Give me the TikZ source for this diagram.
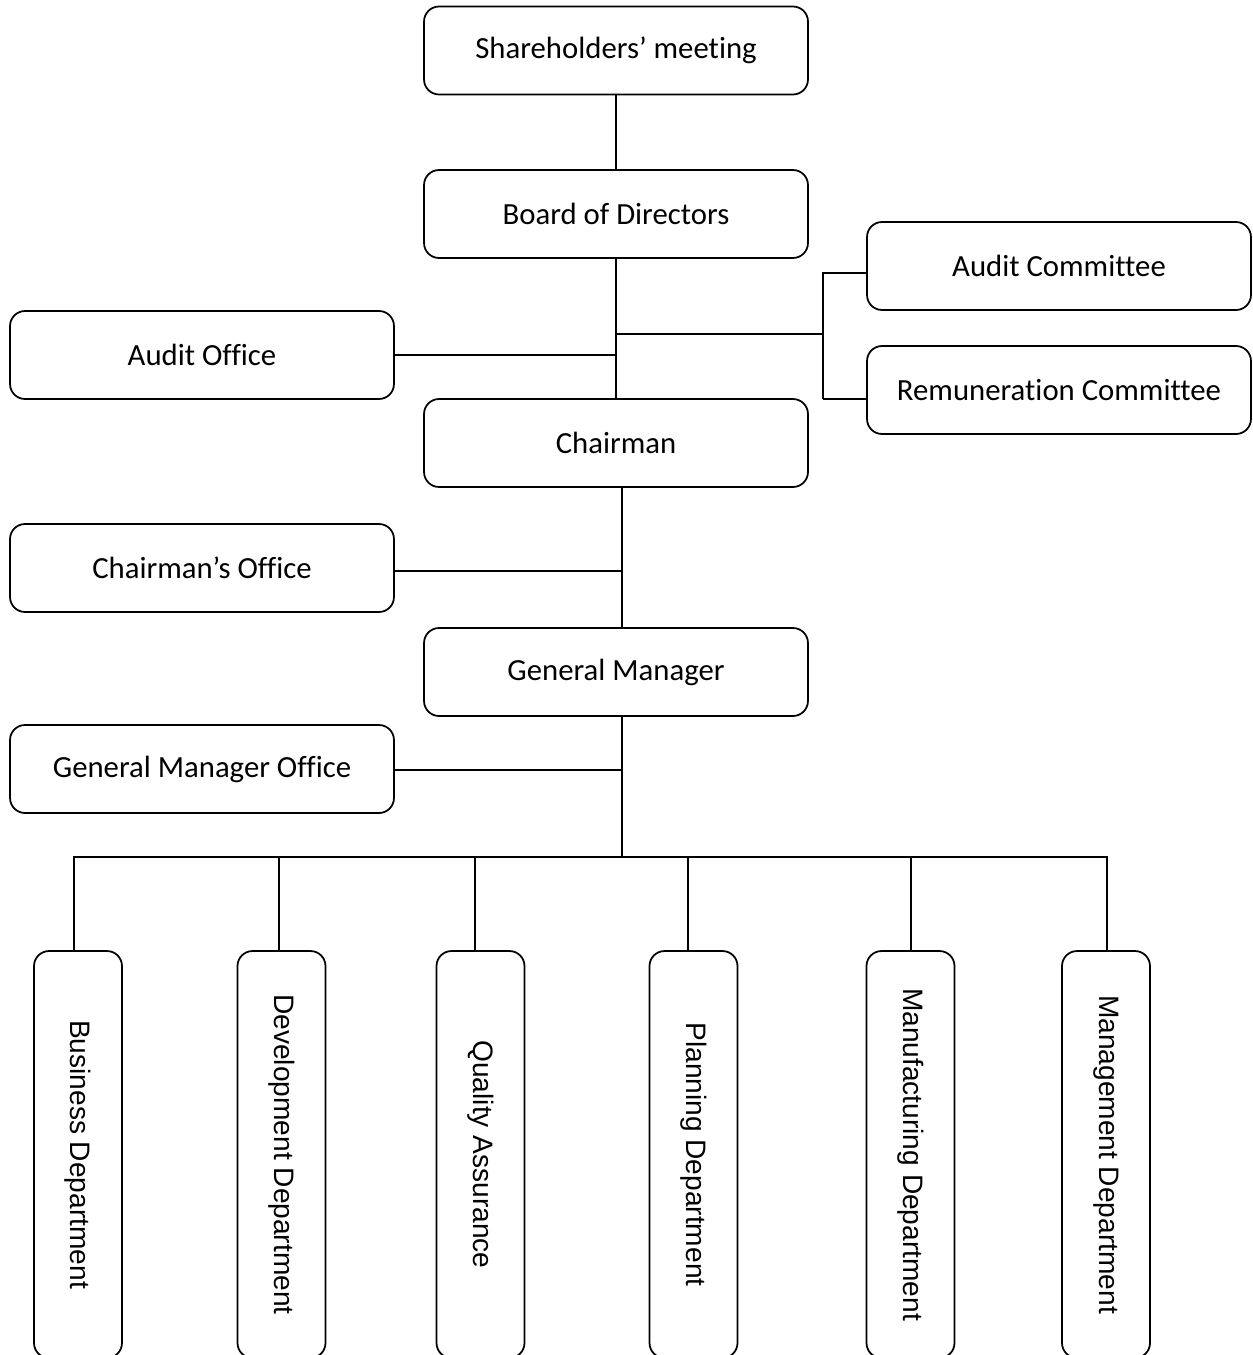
\documentclass[tikz,border=0pt]{standalone}
\usepackage{fontspec}
\setmainfont[Ligatures={NoCommon}]{Carlito}
\newfontfamily\arialf{Liberation Sans}
\begin{document}
\begin{tikzpicture}[x=0.02cm,y=-0.02cm,
 hbox/.style={draw, rounded corners=0.3cm, minimum width=7.68cm, minimum height=1.76cm, inner sep=0pt, font=\fontsize{17.5}{21}\selectfont, line width=1pt},
 vbox/.style={draw, rounded corners=0.3cm, rotate=-90, minimum width=8.14cm, minimum height=1.76cm, inner sep=0pt, font=\arialf\fontsize{16}{19}\selectfont, line width=1pt},
 conn/.style={line width=1pt}]
\useasboundingbox (0,0) rectangle (1252,1355);
% main boxes
\node[hbox] (sh) at (616,50.5) {Shareholders’ meeting};
\node[hbox] (bd) at (616,214) {Board of Directors};
\node[hbox] (ac) at (1059,266) {Audit Committee};
\node[hbox] (rc) at (1059,390) {Remuneration Committee};
\node[hbox] (ao) at (202,355) {Audit Office};
\node[hbox] (ch) at (616,443) {Chairman};
\node[hbox] (co) at (202,568) {Chairman’s Office};
\node[hbox] (gm) at (616,672) {General Manager};
\node[hbox] (go) at (202,769) {General Manager Office};
% departments (rotated: west anchor is the top)
\node[vbox] (d1) at (78,1154.5) {Business Department};
\node[vbox] (d2) at (281.5,1154.5) {Development Department};
\node[vbox] (d3) at (480.5,1154.5) {Quality Assurance};
\node[vbox] (d4) at (693.5,1154.5) {Planning Department};
\node[vbox] (d5) at (910.5,1154.5) {Manufacturing Department};
\node[vbox] (d6) at (1106,1154.5) {Management Department};
% junction coordinates
\coordinate (j1) at (616,334);
\coordinate (br) at (823,334);
\coordinate (brt) at (823,273);
\coordinate (brb) at (823,399);
\coordinate (j2) at (616,355);
\coordinate (j3) at (622,571);
\coordinate (j4) at (622,770);
\coordinate (bus) at (622,857);
\coordinate (busl) at (74,857);
\coordinate (busr) at (1107,857);
% connectors
\draw[conn] (sh.south) -- (bd.north);
\draw[conn] (bd.south) -- (ch.north);
\draw[conn] (ao.east |- j2) -- (j2);
\draw[conn] (j1) -- (br);
\draw[conn] (brt) -- (brb);
\draw[conn] ([xshift=-0.02cm]brt) -- (ac.west |- brt);
\draw[conn] (brb) -- (rc.west |- brb);
\draw[conn] (ch.south -| j3) -- (gm.north -| j3);
\draw[conn] (co.east |- j3) -- (j3);
\draw[conn] (gm.south -| j4) -- (bus);
\draw[conn] (go.east |- j4) -- (j4);
\draw[conn] (d1.west -| busl) -- (busl) -- (busr) -- (d6.west -| busr);
\draw[conn] (279,857) -- (d2.west -| 279,857);
\draw[conn] (475,857) -- (d3.west -| 475,857);
\draw[conn] (688,857) -- (d4.west -| 688,857);
\draw[conn] (911,857) -- (d5.west -| 911,857);
\end{tikzpicture}
\end{document}
